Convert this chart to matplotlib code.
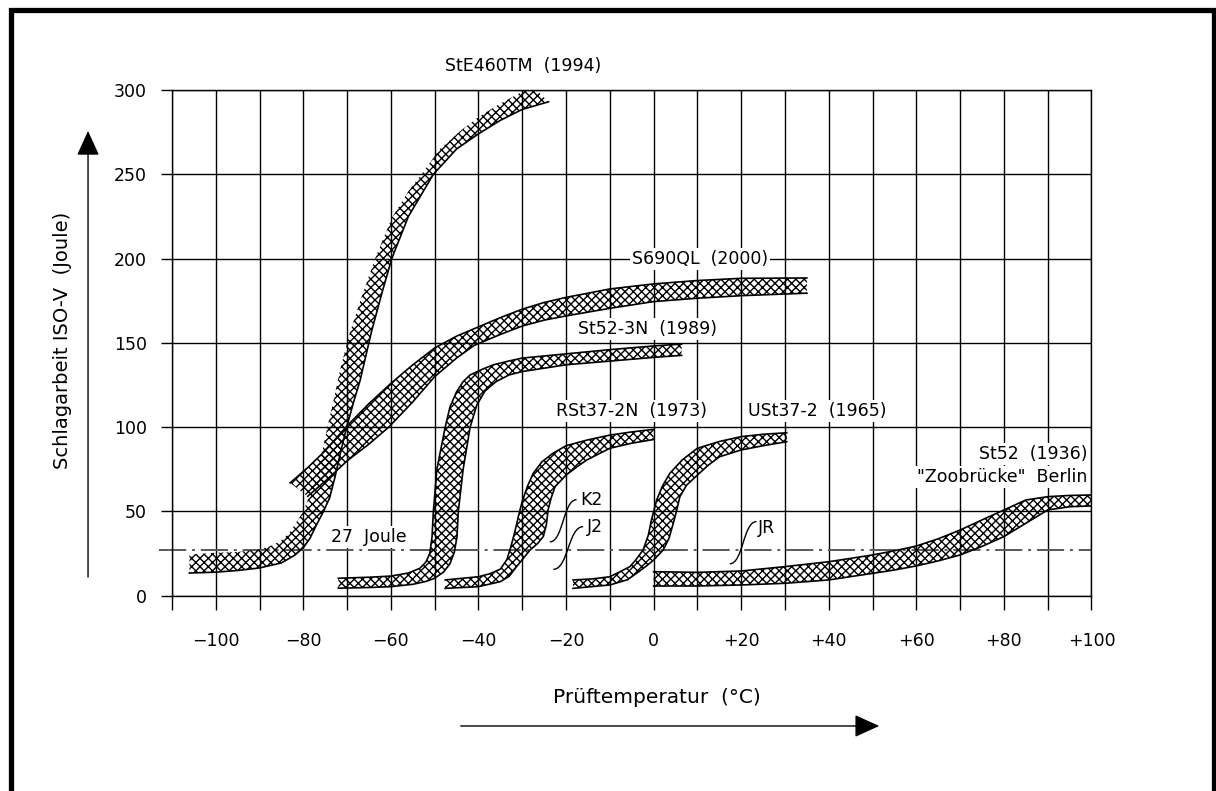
import numpy as np
import matplotlib
matplotlib.use("Agg")
import matplotlib.pyplot as plt
from matplotlib.patches import Rectangle, PathPatch
from matplotlib.path import Path

# Kerbschlagarbeit-Streubänder: (x, y) der oberen/linken und unteren/rechten Bandgrenze
ste460_upper = [(-106, 24.5), (-100, 25.5), (-95, 26), (-90, 27.5), (-87, 30), (-85, 33),
                (-83, 38), (-81.5, 44), (-80, 50), (-78.5, 60), (-77, 72), (-75.5, 88),
                (-74.5, 100), (-73, 117), (-71.5, 135), (-69.5, 155), (-67, 175),
                (-63.6, 200), (-59.8, 224), (-56, 240), (-53, 250), (-48.8, 265),
                (-44, 276), (-40, 284), (-35, 292), (-30, 299), (-27.5, 302)]
ste460_lower = [(-106, 13.5), (-100, 14), (-95, 15), (-90, 16.5), (-85, 19.5), (-82, 24),
                (-80, 28.5), (-78.5, 34), (-77, 42), (-75.4, 50), (-74, 58), (-72.8, 70),
                (-71.5, 85), (-70.1, 100), (-68.5, 115), (-67, 128), (-64.4, 157),
                (-62, 180), (-59.8, 200), (-56, 225), (-50.3, 250), (-45, 265),
                (-40, 274), (-35, 282), (-30, 288.5), (-24, 293)]

s690_upper = [(-83, 67), (-79, 76), (-75, 86), (-70.3, 100), (-65, 114), (-60, 126),
              (-55, 137), (-50, 147), (-45, 154), (-40, 159.5), (-35, 165), (-30, 170),
              (-25, 174), (-20, 177), (-10, 182), (0, 185), (10, 187), (20, 188.3),
              (35, 188.5)]
s690_lower = [(-79, 59), (-75, 68), (-70, 80), (-65, 90), (-60.5, 100), (-55, 115),
              (-50, 130), (-45, 141), (-41, 148.5), (-35, 155), (-30, 160), (-25, 163.5),
              (-20, 166), (-10, 170.5), (0, 174.5), (10, 176.5), (20, 178), (35, 179.5)]

st52_3n_upper = [(-72, 10.4), (-65, 11), (-60, 11.7), (-56, 13.5), (-53.4, 16.3),
                 (-52, 20), (-51.1, 25.2), (-50.6, 35), (-50.3, 50), (-49.5, 75),
                 (-47.6, 100), (-46.5, 112), (-45, 121), (-43.5, 127), (-41.9, 131),
                 (-39, 134.5), (-36.6, 137), (-33, 139.3), (-30, 141), (-20, 143.5),
                 (-10, 146), (0, 148.2), (6.4, 149.3)]
st52_3n_lower = [(-72, 4.5), (-65, 4.9), (-60, 5.4), (-55, 6.8), (-52, 8.5), (-50, 10.4),
                 (-48, 14), (-46.5, 19), (-45.5, 26), (-44.9, 35), (-44.6, 50),
                 (-43.5, 75), (-41.9, 100), (-40.4, 113), (-38.5, 121.5), (-36, 127),
                 (-33, 131), (-30, 133), (-20, 137), (-10, 139.2), (0, 141.4), (6.4, 142.6)]

rst37_upper = [(-47.6, 9.4), (-40, 11.3), (-37.5, 13), (-35, 15.8), (-33.5, 21.5),
               (-32.5, 30), (-31.5, 40), (-30.8, 48), (-30, 56), (-28.8, 65),
               (-27.5, 72.6), (-25.5, 79.5), (-23, 84.5), (-20, 89), (-15, 92.5),
               (-10, 95.3), (-5, 97.2), (0, 98.7)]
rst37_lower = [(-47.6, 4.4), (-40, 5.4), (-35, 8.4), (-33, 11.5), (-31.3, 17.3),
               (-29.5, 23), (-28.2, 27.2), (-26.5, 31), (-25.2, 35.1), (-24.5, 42),
               (-24.1, 50.9), (-23.4, 58), (-22.5, 64.7), (-20, 71.6), (-17.5, 76.5),
               (-15.3, 80.5), (-10, 87.5), (-5, 90.5), (0, 92.7)]

ust37_upper = [(-18.4, 9.4), (-14, 10), (-10, 11.3), (-7.5, 14.5), (-5.4, 17.3),
               (-4, 21.5), (-2.4, 27.2), (-1.2, 36), (-0.5, 45), (0.7, 56.8), (2, 65),
               (3.7, 72.6), (6.5, 80.5), (10, 87.5), (15, 91.5), (20, 94.4), (25, 95.8),
               (30.4, 96.7)]
ust37_lower = [(-18.4, 4.4), (-10, 6.4), (-6, 9.5), (-3.9, 13.3), (-1.5, 18), (0, 21.2),
               (2.2, 27.2), (3.5, 34), (4.5, 43), (5.3, 51), (6, 58.8), (7.5, 65.5),
               (10, 71.6), (12.5, 77.5), (15.1, 82.5), (20, 86.5), (25, 89), (30.4, 91.4)]

st52_upper = [(0, 14.3), (10, 13.9), (20, 14.7), (30, 17.3), (40, 20.2), (50, 24.2),
              (55, 26.7), (60, 29.5), (65, 33.8), (70, 39), (75, 45), (80, 50.9),
              (85, 56.8), (90, 58.8), (95, 59.5), (100, 59.8)]
st52_lower = [(0, 5.8), (10, 5.8), (20, 6.4), (30, 7.4), (40, 9.4), (50, 13.3),
              (55, 15.3), (60, 17.7), (65, 20.7), (70, 24.2), (75, 29.3), (80, 35.1),
              (85, 43), (90, 50.9), (95, 52.8), (100, 53.3)]

# (Band, obere Kante mit Linie?)
bands = [(ste460_upper, ste460_lower, False),
         (s690_upper, s690_lower, True),
         (st52_3n_upper, st52_3n_lower, True),
         (rst37_upper, rst37_lower, True),
         (ust37_upper, ust37_lower, True),
         (st52_upper, st52_lower, True)]

# Beschriftungen: Text, x, y, ha
labels = [("StE460TM  (1994)", -29.7, 314, "center"),
          ("S690QL  (2000)", 10.6, 200, "center"),
          ("St52-3N  (1989)", -1.4, 158, "center"),
          ("RSt37-2N  (1973)", -5, 109.6, "center"),
          ("USt37-2  (1965)", 37.3, 109.6, "center"),
          ("St52  (1936)", 99, 84, "right"),
          ("\"Zoobrücke\"  Berlin", 99, 70.3, "right"),
          ("27  Joule", -65, 34.7, "center")]

# Gütegruppen-Hinweise: Text, Fußpunkt, Hakenende, Textposition
grade_marks = [("K2", (-23.7, 32), (-17.6, 57), (-16.8, 57)),
               ("J2", (-22.9, 15.7), (-16.1, 41), (-15.3, 41)),
               ("JR", (17.4, 19), (23.5, 44), (23.9, 40))]

joule_line = 27
xticks = np.arange(-110, 101, 10)
xtick_labels = {-100: "\u2212100", -80: "\u221280", -60: "\u221260", -40: "\u221240",
                -20: "\u221220", 0: "0", 20: "+20", 40: "+40", 60: "+60", 80: "+80",
                100: "+100"}
yticks = np.arange(0, 301, 50)

plt.rcParams["font.family"] = "DejaVu Sans"
plt.rcParams["hatch.linewidth"] = 1.0
plt.rcParams["hatch.color"] = "black"

fig = plt.figure(figsize=(12.16, 7.91), dpi=100)
ax = fig.add_axes([0.1414, 0.2468, 0.7562, 0.6394])
ax.set_xlim(-110, 100)
ax.set_ylim(0, 300)

ax.set_xticks(xticks)
ax.set_xticklabels([xtick_labels.get(int(t), "") for t in xticks], fontsize=12.5)
ax.set_xticks([0], minor=True)
ax.set_yticks(yticks)
ax.set_yticklabels([str(t) for t in yticks], fontsize=12.5)
ax.tick_params(axis="x", which="major", length=10, width=1.0, pad=16)
ax.tick_params(axis="x", which="minor", length=19.5, width=1.0)
ax.tick_params(axis="y", length=8, width=1.0, pad=10)
ax.grid(True, color="black", lw=1.0, zorder=1)
for sp in ax.spines.values():
    sp.set_linewidth(1.0)

ax.axhline(joule_line, xmin=-0.014, xmax=1, color="0.35", lw=1.4,
           dashes=(14, 3, 1.5, 3), clip_on=False, zorder=2)

for upper, lower, upper_line in bands:
    ux, uy = zip(*upper)
    lx, ly = zip(*lower)
    ax.fill(list(ux) + list(lx[::-1]), list(uy) + list(ly[::-1]), facecolor="none",
            edgecolor="black", hatch="xxxx", lw=0, zorder=3)
    ax.plot(lx, ly, color="black", lw=1.2, zorder=4)
    if upper_line:
        ax.plot(ux, uy, color="black", lw=1.2, zorder=4)

for txt, x, y, ha in labels:
    ax.text(x, y, txt, ha=ha, va="center", fontsize=12.5, zorder=6, clip_on=False,
            bbox=dict(facecolor="white", edgecolor="none", pad=1.5))

for txt, p0, p1, ptxt in grade_marks:
    xm = (p0[0] + p1[0]) / 2
    path = Path([p0, (xm, p0[1]), (xm, p1[1]), p1],
                [Path.MOVETO, Path.CURVE4, Path.CURVE4, Path.CURVE4])
    ax.add_patch(PathPatch(path, facecolor="none", edgecolor="black", lw=1.0, zorder=5))
    ax.text(ptxt[0], ptxt[1], txt, ha="left", va="center", fontsize=12.5, zorder=6)

# Achsenpfeile und Achsentitel
fig.patches.append(matplotlib.patches.FancyArrowPatch(
    (0.0724, 0.267), (0.0724, 0.838), transform=fig.transFigure,
    arrowstyle="-|>,head_length=1.1,head_width=0.5", mutation_scale=14,
    color="black", lw=1.0))
fig.patches.append(matplotlib.patches.FancyArrowPatch(
    (0.3766, 0.0822), (0.7253, 0.0822), transform=fig.transFigure,
    arrowstyle="-|>,head_length=1.1,head_width=0.5", mutation_scale=14,
    color="black", lw=1.0))
fig.text(0.051, 0.57, "Schlagarbeit ISO-V  (Joule)", rotation=90, ha="center",
         va="center", fontsize=14)
fig.text(0.5403, 0.1176, "Prüftemperatur  (°C)", ha="center", va="center", fontsize=14.5)

# Rahmen
fig.patches.append(Rectangle((10.5 / 1216, -0.1), (1213.5 - 10.5) / 1216,
                             1.1 - 10.5 / 791, transform=fig.transFigure, fill=False,
                             lw=3.8, edgecolor="black", clip_on=False))

fig.savefig("out.png", dpi=100)
